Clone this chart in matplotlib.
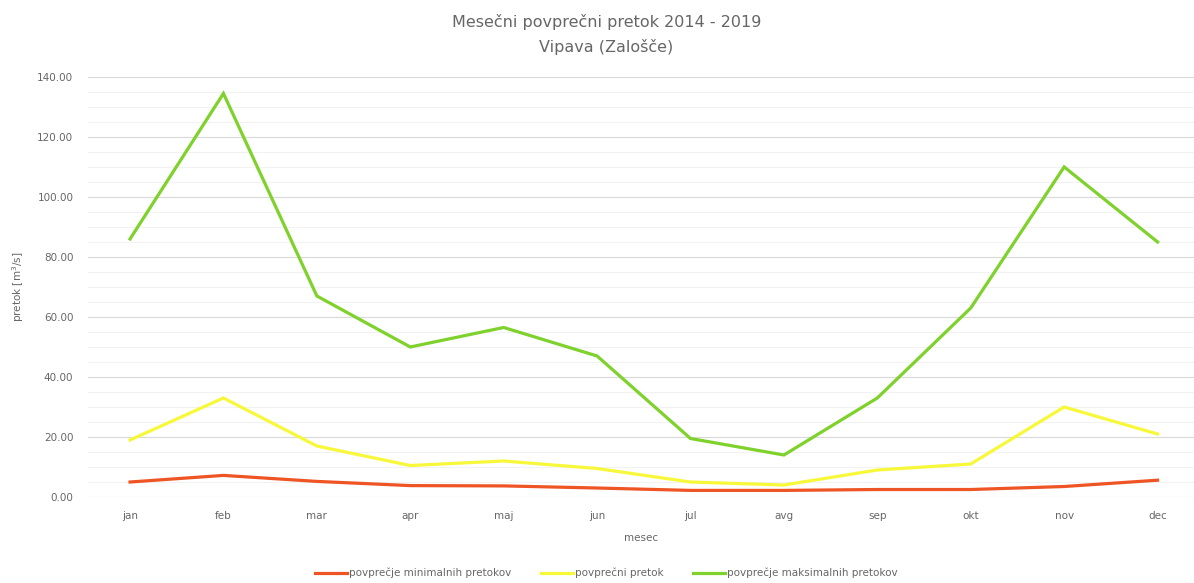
import matplotlib
matplotlib.use('Agg')
import matplotlib.pyplot as plt
from matplotlib.ticker import MultipleLocator, FormatStrFormatter

#%% Data
months = ['jan', 'feb', 'mar', 'apr', 'maj', 'jun', 'jul', 'avg', 'sep', 'okt', 'nov', 'dec']
q_min = [5.0, 7.2, 5.2, 3.8, 3.7, 3.0, 2.2, 2.2, 2.5, 2.5, 3.5, 5.6]
q_avg = [19.0, 33.0, 17.0, 10.5, 12.0, 9.5, 5.0, 4.0, 9.0, 11.0, 30.0, 21.0]
q_max = [86.0, 134.5, 67.0, 50.0, 56.5, 47.0, 19.5, 14.0, 33.0, 63.0, 110.0, 85.0]
labels = ['povprečje minimalnih pretokov', 'povprečni pretok', 'povprečje maksimalnih pretokov']
colors = ['#EE5424', '#F8F83A', '#7FD12C']

#%% Plot
plt.rcParams['font.family'] = ['DejaVu Sans']
text_gray = '#666666'
fig = plt.figure(figsize=(11.94, 5.83), dpi=100)
ax = fig.add_axes([0.0737, 0.1475, 0.9263, 0.7205])

x = range(len(months))
for (y, lab, col) in zip([q_min, q_avg, q_max], labels, colors):
    ax.plot(x, y, color=col, linewidth=2.3, label=lab, solid_joinstyle='miter')

ax.set_xlim(-0.45, 11.39)
ax.set_ylim(0, 140)
ax.set_xticks(list(x))
ax.set_xticklabels(months)
ax.yaxis.set_major_locator(MultipleLocator(20))
ax.yaxis.set_minor_locator(MultipleLocator(5))
ax.yaxis.set_major_formatter(FormatStrFormatter('%.2f'))
ax.grid(True, which='major', axis='y', color='#D9D9D9', linewidth=0.8)
ax.grid(True, which='minor', axis='y', color='#F2F2F2', linewidth=0.8)
ax.set_axisbelow(True)
for side in ['top', 'right', 'left', 'bottom']:
    ax.spines[side].set_visible(False)
ax.tick_params(axis='both', which='both', length=0, labelsize=7.5, labelcolor=text_gray)
ax.tick_params(axis='x', pad=10)
ax.tick_params(axis='y', pad=10.5)

ax.set_xlabel('mesec', fontsize=7.5, color=text_gray, labelpad=9)
ax.set_ylabel('pretok [m$^3$/s]', fontsize=7.5, color=text_gray, labelpad=8)
fig.text(0.508, 0.963, 'Mesečni povprečni pretok 2014 - 2019', ha='center', va='center',
    fontsize=11.5, color=text_gray)
fig.text(0.508, 0.919, 'Vipava (Zalošče)', ha='center', va='center', fontsize=11.5, color=text_gray)

fig.legend(loc='center', bbox_to_anchor=(0.508, 0.017), ncol=3, frameon=False, fontsize=7.5,
    labelcolor=text_gray, handlelength=3.1, columnspacing=2.8, handletextpad=0.2)

fig.savefig('out.png', dpi=100)
